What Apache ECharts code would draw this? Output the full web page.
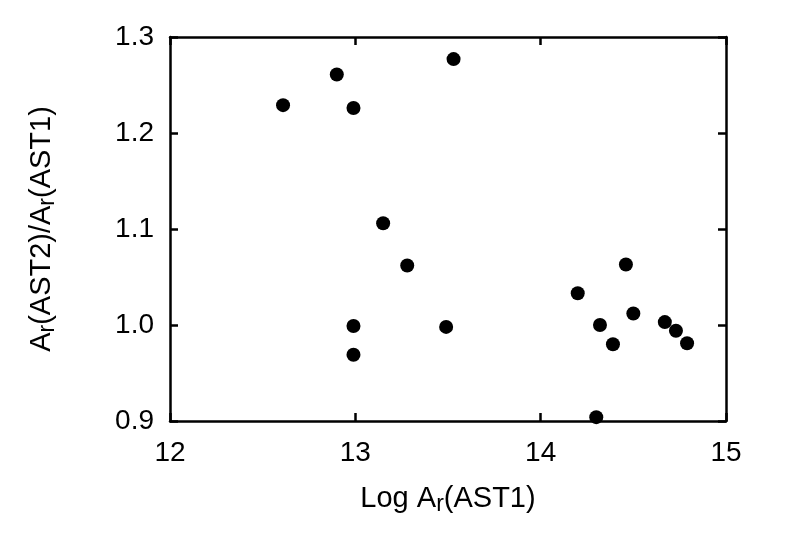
<!DOCTYPE html>
<html>
<head>
<meta charset="utf-8">
<script src="https://cdn.jsdelivr.net/npm/echarts@6/dist/echarts.min.js"></script>
<style>html,body{margin:0;padding:0;background:#fff}#c{width:791px;height:547px}</style>
</head>
<body>
<div id="c"></div>
<script>
var xValues = [12.61, 12.90, 12.99, 13.53, 13.15, 13.28, 12.99, 12.99, 13.49, 14.20, 14.46, 14.32, 14.39, 14.50, 14.67, 14.73, 14.79, 14.30];
var yValues = [1.229, 1.261, 1.226, 1.277, 1.106, 1.062, 0.999, 0.969, 0.998, 1.033, 1.063, 1.000, 0.980, 1.012, 1.003, 0.994, 0.981, 0.904];
var xTicks = [12, 13, 14, 15];
var yTicks = [0.9, 1.0, 1.1, 1.2, 1.3];

var pts = xValues.map(function (x, i) { return [x, yValues[i]]; });
var font = 'Liberation Sans, Arial, Helvetica, sans-serif';
var axisLine = { show: true, lineStyle: { color: '#000', width: 2.5 } };
var tick = { show: true, inside: true, length: 8, lineStyle: { color: '#000', width: 2.5 } };

var chart = echarts.init(document.getElementById('c'), null, { renderer: 'canvas' });
chart.setOption({
  animation: false,
  backgroundColor: '#fff',
  grid: { left: 170, right: 65, top: 37, bottom: 126, containLabel: false },
  xAxis: [{
    type: 'value', min: xTicks[0], max: xTicks[xTicks.length - 1], interval: 1, position: 'bottom',
    axisLine: axisLine, axisTick: tick, splitLine: { show: false },
    axisLabel: { color: '#000', fontSize: 28, fontFamily: font, margin: 18 },
    name: '{b|Log A}{s|r}{b|(AST1)}', nameLocation: 'middle', nameGap: 60,
    nameTextStyle: { rich: {
      b: { fontSize: 29, fontFamily: font, color: '#000' },
      s: { fontSize: 23, fontFamily: font, color: '#000', padding: [12, 0, 0, 0] }
    } }
  }, {
    type: 'value', min: xTicks[0], max: xTicks[xTicks.length - 1], interval: 1, position: 'top',
    axisLine: axisLine, axisTick: tick, splitLine: { show: false }, axisLabel: { show: false }
  }],
  yAxis: [{
    type: 'value', min: yTicks[0], max: yTicks[yTicks.length - 1], interval: 0.1, position: 'left',
    axisLine: axisLine, axisTick: tick, splitLine: { show: false },
    axisLabel: { color: '#000', fontSize: 28, fontFamily: font, margin: 16,
      formatter: function (v) { return v.toFixed(1); } },
    name: '{b|A}{s|r}{b|(AST2)/A}{s|r}{b|(AST1)}', nameLocation: 'middle', nameGap: 111, nameRotate: 90,
    nameTextStyle: { rich: {
      b: { fontSize: 29, fontFamily: font, color: '#000' },
      s: { fontSize: 23, fontFamily: font, color: '#000', padding: [12, 0, 0, 0] }
    } }
  }, {
    type: 'value', min: yTicks[0], max: yTicks[yTicks.length - 1], interval: 0.1, position: 'right',
    axisLine: axisLine, axisTick: tick, splitLine: { show: false }, axisLabel: { show: false }
  }],
  series: [{
    type: 'scatter', xAxisIndex: 0, yAxisIndex: 0, data: pts,
    symbol: 'circle', symbolSize: [14, 14],
    itemStyle: { color: '#000', opacity: 1 }
  }]
});
</script>
</body>
</html>
